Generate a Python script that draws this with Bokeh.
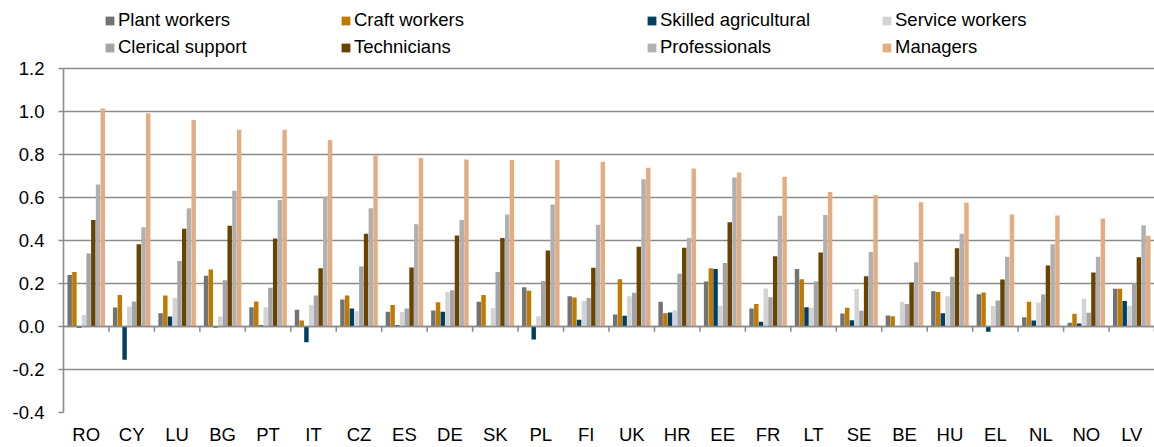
from bokeh.plotting import figure
from bokeh.models import (ColumnDataSource, FactorRange, Legend, LegendItem,
                          FixedTicker, Range1d)
from bokeh.transform import dodge
from bokeh.embed import file_html
from bokeh.resources import INLINE

countries = ["RO", "CY", "LU", "BG", "PT", "IT", "CZ", "ES", "DE", "SK", "PL", "FI",
             "UK", "HR", "EE", "FR", "LT", "SE", "BE", "HU", "EL", "NL", "NO", "LV"]

plant_workers = [0.239, 0.088, 0.062, 0.236, 0.090, 0.078, 0.126, 0.068, 0.074, 0.115, 0.183, 0.141,
                 0.056, 0.115, 0.209, 0.084, 0.267, 0.060, 0.051, 0.164, 0.150, 0.043, 0.017, 0.175]
craft_workers = [0.253, 0.146, 0.144, 0.265, 0.116, 0.028, 0.144, 0.100, 0.113, 0.146, 0.166, 0.135,
                 0.220, 0.062, 0.271, 0.105, 0.220, 0.087, 0.048, 0.160, 0.158, 0.115, 0.059, 0.175]
skilled_agricultural = [-0.006, -0.155, 0.047, -0.005, 0.006, -0.073, 0.084, 0.006, 0.068, 0.0, -0.060, 0.031,
                        0.050, 0.065, 0.267, 0.022, 0.090, 0.029, 0.0, 0.062, -0.025, 0.028, 0.014, 0.118]
service_workers = [0.053, 0.093, 0.132, 0.047, 0.090, 0.100, 0.071, 0.067, 0.160, 0.085, 0.048, 0.118,
                   0.141, 0.076, 0.096, 0.177, 0.087, 0.174, 0.115, 0.141, 0.095, 0.112, 0.129, 0.096]
clerical_support = [0.340, 0.116, 0.304, 0.215, 0.180, 0.144, 0.279, 0.084, 0.169, 0.253, 0.211, 0.132,
                    0.157, 0.245, 0.295, 0.136, 0.209, 0.073, 0.105, 0.231, 0.121, 0.149, 0.064, 0.202]
technicians = [0.495, 0.383, 0.454, 0.468, 0.409, 0.271, 0.431, 0.274, 0.423, 0.412, 0.353, 0.273,
               0.371, 0.366, 0.485, 0.327, 0.344, 0.234, 0.205, 0.364, 0.219, 0.284, 0.251, 0.322]
professionals = [0.660, 0.462, 0.550, 0.631, 0.588, 0.605, 0.550, 0.476, 0.495, 0.521, 0.567, 0.473,
                 0.685, 0.411, 0.693, 0.515, 0.519, 0.346, 0.299, 0.431, 0.324, 0.383, 0.324, 0.471]
managers = [1.014, 0.992, 0.960, 0.915, 0.915, 0.867, 0.795, 0.783, 0.777, 0.774, 0.774, 0.766,
            0.738, 0.735, 0.716, 0.696, 0.625, 0.612, 0.578, 0.575, 0.521, 0.516, 0.502, 0.422]

series_names = ["Plant workers", "Craft workers", "Skilled agricultural", "Service workers",
                "Clerical support", "Technicians", "Professionals", "Managers"]
series_keys = ["plant", "craft", "skilled", "service", "clerical", "tech", "prof", "mgr"]
series_values = [plant_workers, craft_workers, skilled_agricultural, service_workers,
                 clerical_support, technicians, professionals, managers]
colors = ["#737375", "#c07a00", "#003f62", "#d3d3d5", "#a4a4a6", "#6a4300", "#b0b0b2", "#e3ad84"]

y_ticks = [-0.4, -0.2, 0.0, 0.2, 0.4, 0.6, 0.8, 1.0, 1.2]

data = {"country": countries}
for k, v in zip(series_keys, series_values):
    data[k] = v
data["zero"] = [0.0] * len(countries)
data["tickend"] = [-0.024] * len(countries)
source = ColumnDataSource(data)

p = figure(x_range=FactorRange(factors=countries, range_padding=0),
           y_range=Range1d(-0.4, 1.516),
           width=1154, height=447, output_backend="svg", toolbar_location=None,
           min_border_left=63, min_border_right=0, min_border_top=0, min_border_bottom=33)
p.outline_line_color = None
p.background_fill_color = "white"

# grid
p.xgrid.grid_line_color = None
p.ygrid.ticker = FixedTicker(ticks=y_ticks)
p.ygrid.grid_line_color = "#8c8c8c"
p.ygrid.grid_line_width = 1.6
p.ygrid.bounds = (-0.4, 1.2)

# y axis
p.yaxis.ticker = FixedTicker(ticks=y_ticks)
p.yaxis.bounds = (-0.4, 1.2)
p.yaxis.major_label_overrides = {t: f"{t:.1f}" for t in y_ticks}
p.yaxis.axis_line_color = "#8c8c8c"
p.yaxis.axis_line_width = 1.6
p.yaxis.major_tick_line_color = "#8c8c8c"
p.yaxis.major_tick_line_width = 1.6
p.yaxis.major_tick_out = 5
p.yaxis.major_tick_in = 0
p.yaxis.minor_tick_line_color = None
p.yaxis.major_label_standoff = 14
p.yaxis.major_label_text_font = "Liberation Sans"
p.yaxis.major_label_text_font_size = "18.5px"
p.yaxis.major_label_text_color = "#000000"

# x axis
p.xaxis.axis_line_color = None
p.xaxis.major_tick_line_color = None
p.xaxis.minor_tick_line_color = None
p.xaxis.major_label_standoff = 5
p.xaxis.major_label_text_font = "Liberation Sans"
p.xaxis.major_label_text_font_size = "18.5px"
p.xaxis.major_label_text_color = "#000000"

# category boundary ticks on the zero line
p.segment(x0=dodge("country", 0.5, range=p.x_range), y0="zero",
          x1=dodge("country", 0.5, range=p.x_range), y1="tickend",
          source=source, line_color="#8c8c8c", line_width=1.6)

step = 0.104
renderers = []
for i, (k, c) in enumerate(zip(series_keys, colors)):
    r = p.vbar(x=dodge("country", (i - 3.5) * step, range=p.x_range), top=k, bottom=0,
               width=0.098, source=source, fill_color=c, line_color=None)
    renderers.append(r)

# zero line drawn over bars
p.segment(x0=dodge("country", -0.5, range=p.x_range), y0="zero",
          x1=dodge("country", 0.5, range=p.x_range), y1="zero",
          source=source, line_color="#8c8c8c", line_width=1.6)

col_x = [41, 277, 583, 818]
for col in range(4):
    items = [LegendItem(label=series_names[col], renderers=[renderers[col]]),
             LegendItem(label=series_names[col + 4], renderers=[renderers[col + 4]])]
    leg = Legend(items=items, location=(col_x[col], 354), orientation="vertical",
                 glyph_width=11, glyph_height=11, label_standoff=3,
                 label_text_font="Liberation Sans", label_text_font_size="18.5px",
                 label_text_color="#000000", label_height=20, spacing=5,
                 padding=0, margin=0, border_line_color=None,
                 background_fill_alpha=0)
    p.add_layout(leg, "center")

open("out.html", "w").write(file_html(p, INLINE))
